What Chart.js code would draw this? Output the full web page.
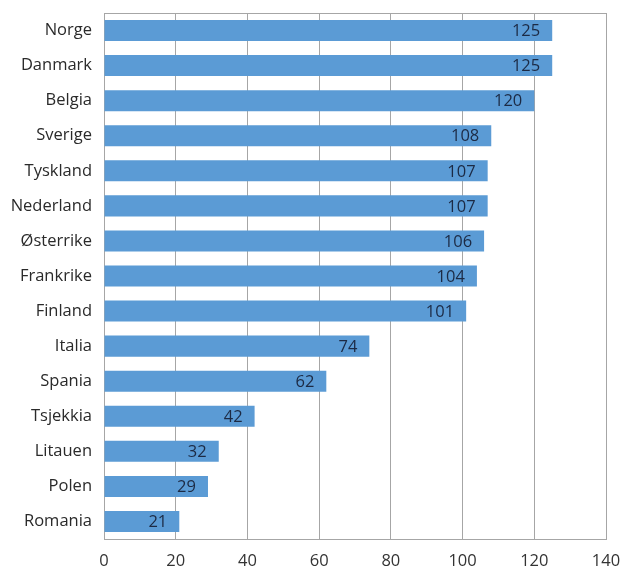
<!DOCTYPE html>
<html><head><meta charset="utf-8">
<script src="https://cdn.jsdelivr.net/npm/chart.js@4/dist/chart.umd.min.js"></script>
<style>html,body{margin:0;padding:0;background:#fff}#wrap{width:623px;height:572px}</style>
</head><body><div id="wrap"><canvas id="c" width="623" height="572"></canvas></div>
<script>
const categories = ["Norge","Danmark","Belgia","Sverige","Tyskland","Nederland","Østerrike","Frankrike","Finland","Italia","Spania","Tsjekkia","Litauen","Polen","Romania"];
const values = [125,125,120,108,107,107,106,104,101,74,62,42,32,29,21];
const xTicks = [0,20,40,60,80,100,120,140];

const labelPlugin = {
  id: 'barLabels',
  afterDatasetsDraw(chart) {
    const ctx = chart.ctx;
    const meta = chart.getDatasetMeta(0);
    ctx.save();
    ctx.font = '16.5px "Open Sans"';
    ctx.fillStyle = '#1c2a44';
    ctx.textAlign = 'right';
    ctx.textBaseline = 'middle';
    meta.data.forEach((bar, i) => {
      ctx.fillText(String(values[i]), bar.x - 12, bar.y + 1);
    });
    ctx.restore();
  }
};
const boxPlugin = {
  id: 'box',
  beforeDatasetsDraw(chart) {
    const a = chart.chartArea, ctx = chart.ctx;
    ctx.save();
    ctx.strokeStyle = '#a6a6a6';
    ctx.lineWidth = 1;
    ctx.strokeRect(Math.round(a.left)+0.5, Math.round(a.top)+0.5, Math.round(a.right-a.left), Math.round(a.bottom-a.top));
    ctx.restore();
  }
};

new Chart(document.getElementById('c'), {
  type: 'bar',
  data: { labels: categories, datasets: [{ data: values, backgroundColor: '#5b9bd5', borderWidth: 0, categoryPercentage: 1, barPercentage: 0.6 }] },
  options: {
    indexAxis: 'y', responsive: false, animation: false,
    layout: { padding: { top: 13, right: 17, left: 0, bottom: 0 } },
    plugins: { legend: { display: false }, tooltip: { enabled: false } },
    scales: {
      x: {
        min: 0, max: 140,
        afterBuildTicks(s) { s.ticks = xTicks.map(v => ({ value: v })); },
        afterFit(s) { s.height = 33; s.paddingLeft = 0; s.paddingRight = 0; },
        grid: { color: '#a6a6a6', drawTicks: false },
        border: { display: false },
        ticks: { padding: 12, color: '#333', font: { family: 'Open Sans', size: 16.5 } }
      },
      y: {
        afterFit(s) { s.width = 104; s.paddingTop = 0; s.paddingBottom = 0; },
        grid: { display: false, drawTicks: false },
        border: { display: false },
        ticks: { padding: 12, color: '#2a2a2a', font: { family: 'Open Sans', size: 16.5 } }
      }
    }
  },
  plugins: [boxPlugin, labelPlugin]
});
</script></body></html>
